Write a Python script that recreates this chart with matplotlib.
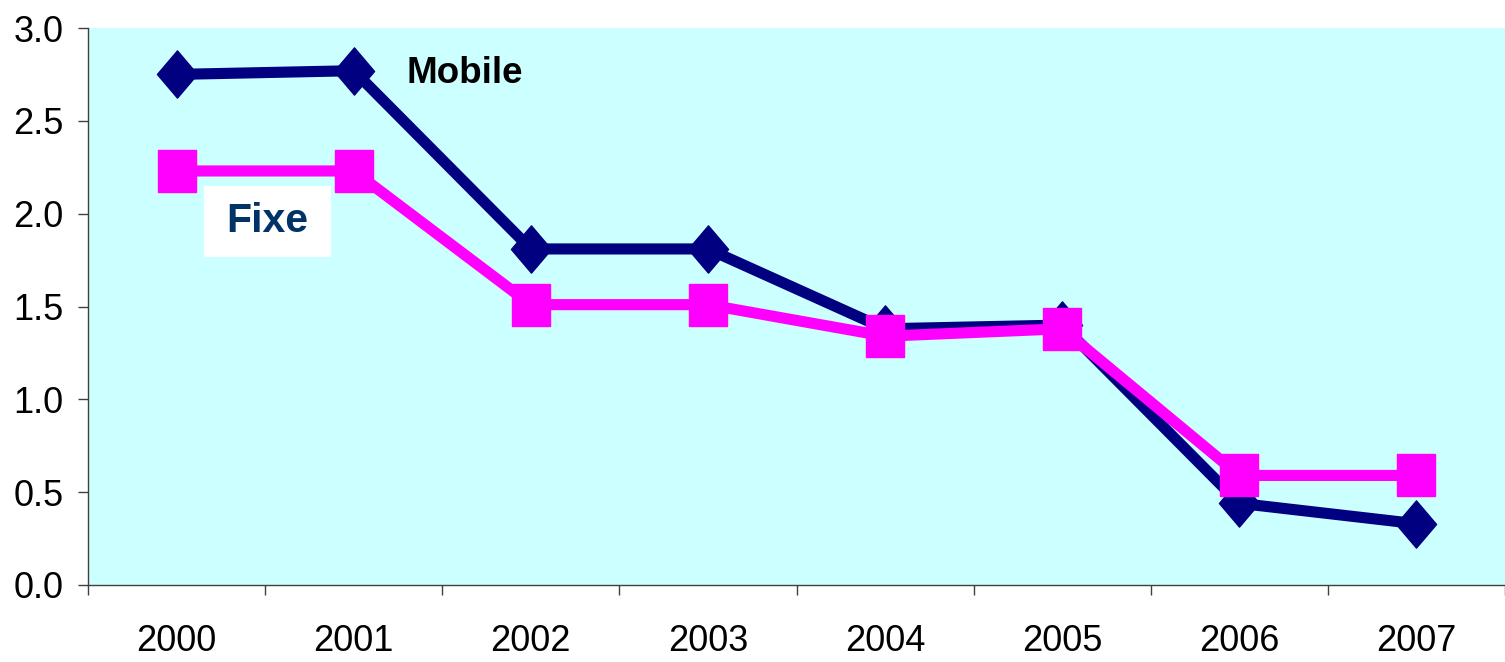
import numpy as np
import matplotlib
matplotlib.use('Agg')
import matplotlib.pyplot as plt
from matplotlib.path import Path
from matplotlib.patches import Rectangle

# data
years = ['2000', '2001', '2002', '2003', '2004', '2005', '2006', '2007']
mobile = [2.75, 2.77, 1.81, 1.81, 1.38, 1.40, 0.44, 0.33]
fixe = [2.23, 2.23, 1.51, 1.51, 1.34, 1.38, 0.59, 0.59]
yticks = [0.0, 0.5, 1.0, 1.5, 2.0, 2.5, 3.0]

plt.rcParams['font.family'] = ['Liberation Sans', 'DejaVu Sans']

# slightly elongated markers, as in the original
diamond = Path([(0, 1), (0.85, 0), (0, -1), (-0.85, 0), (0, 1)],
               [Path.MOVETO, Path.LINETO, Path.LINETO, Path.LINETO, Path.CLOSEPOLY])
square = Path([(-0.9, -1), (0.9, -1), (0.9, 1), (-0.9, 1), (-0.9, -1)],
              [Path.MOVETO, Path.LINETO, Path.LINETO, Path.LINETO, Path.CLOSEPOLY])

fig = plt.figure(figsize=(15.05, 6.62), dpi=100)
ax = fig.add_axes([88/1505, 77/662, 1417/1505, 557/662])
ax.set_facecolor('#ccffff')

x = np.arange(len(years))
ax.plot(x, mobile, color='#000080', lw=8, marker=diamond, ms=34,
        mec='#000080', mfc='#000080', solid_joinstyle='miter', zorder=3)
ax.plot(x, fixe, color='#ff00ff', lw=8, marker=square, ms=30,
        mec='#ff00ff', mfc='#ff00ff', zorder=4)

ax.set_xlim(-0.5, 7.474)
ax.set_ylim(0, 3.0)

ax.set_xticks(x)
ax.set_xticklabels(years)
ax.set_xticks(np.arange(len(years) + 1) - 0.5, minor=True)
ax.tick_params(axis='x', which='major', length=0, pad=28, labelsize=26)
ax.tick_params(axis='x', which='minor', length=7.5, width=1, color='#404040', direction='out')
ax.set_yticks(yticks)
ax.set_yticklabels(['%.1f' % v for v in yticks])
ax.tick_params(axis='y', length=7.5, width=1, color='#404040', pad=10, labelsize=26)

for s in ['top', 'right']:
    ax.spines[s].set_visible(False)
for s in ['left', 'bottom']:
    ax.spines[s].set_color('#404040')
    ax.spines[s].set_linewidth(1)

ax.text(1.30, 2.757, 'Mobile', fontsize=26.5, fontweight='bold', color='black',
        ha='left', va='center', zorder=5)
ax.add_patch(Rectangle((0.153, 1.767), 0.72, 0.382, facecolor='white',
                       edgecolor='none', zorder=5))
ax.text(0.51, 1.958, 'Fixe', fontsize=29.5, fontweight='bold', color='#003366',
        ha='center', va='center', zorder=6)

plt.savefig('out.png', dpi=100)
